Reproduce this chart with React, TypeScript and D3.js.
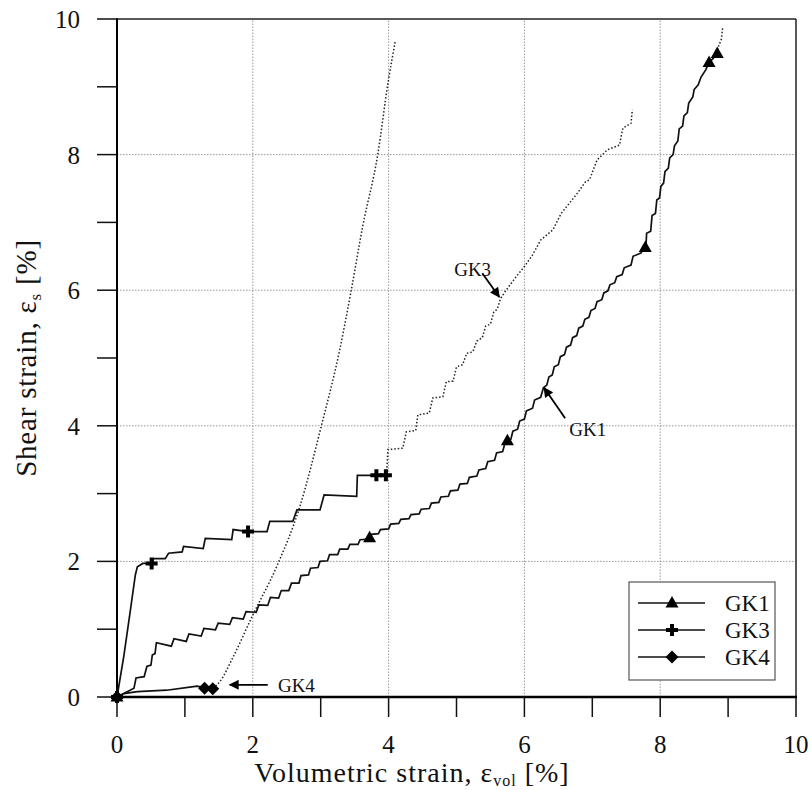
import React from "react";
import * as d3 from "d3";

// measured part of each test (solid, with markers) and its extrapolation (dotted)
const gk1Solid = [
  [0, 0], [0.1, 0.05], [0.25, 0.13], [0.28, 0.28], [0.4, 0.3], [0.44, 0.45], [0.5, 0.47], [0.52, 0.62],
  [0.56, 0.64], [0.58, 0.8], [0.8, 0.75], [0.84, 0.86], [1.02, 0.82], [1.06, 0.93], [1.24, 0.9], [1.28, 1.01],
  [1.45, 0.99], [1.49, 1.09], [1.66, 1.07], [1.7, 1.17], [1.86, 1.15], [1.9, 1.26], [2.05, 1.25], [2.09, 1.36],
  [2.22, 1.35], [2.26, 1.47], [2.38, 1.46], [2.42, 1.57], [2.53, 1.57], [2.57, 1.68], [2.68, 1.68], [2.71, 1.79],
  [2.82, 1.8], [2.85, 1.9], [2.96, 1.91], [2.99, 2.0], [3.1, 2.01], [3.13, 2.1], [3.25, 2.1], [3.28, 2.18],
  [3.4, 2.18], [3.43, 2.25], [3.55, 2.25], [3.58, 2.32], [3.72, 2.33], [3.75, 2.4], [3.85, 2.41], [3.88, 2.47],
  [4.0, 2.48], [4.03, 2.55], [4.15, 2.56], [4.18, 2.62], [4.3, 2.63], [4.33, 2.69], [4.45, 2.7], [4.48, 2.77],
  [4.6, 2.78], [4.63, 2.86], [4.74, 2.87], [4.77, 2.95], [4.88, 2.96], [4.91, 3.04], [5.02, 3.05], [5.05, 3.14],
  [5.16, 3.15], [5.19, 3.24], [5.3, 3.26], [5.33, 3.35], [5.43, 3.37], [5.46, 3.47], [5.56, 3.49], [5.59, 3.6],
  [5.68, 3.62], [5.71, 3.73], [5.75, 3.76], [5.8, 3.8], [5.83, 3.92], [5.9, 3.95], [5.93, 4.07], [6.0, 4.1],
  [6.03, 4.22], [6.12, 4.26], [6.15, 4.38], [6.24, 4.42], [6.28, 4.56], [6.33, 4.6], [6.36, 4.72], [6.41, 4.75],
  [6.44, 4.87], [6.5, 4.9], [6.53, 5.02], [6.59, 5.05], [6.62, 5.16], [6.68, 5.19], [6.71, 5.3], [6.77, 5.33],
  [6.8, 5.44], [6.86, 5.47], [6.89, 5.57], [6.95, 5.6], [6.98, 5.7], [7.04, 5.73], [7.07, 5.83], [7.14, 5.86],
  [7.17, 5.96], [7.23, 5.99], [7.26, 6.08], [7.33, 6.11], [7.36, 6.2], [7.44, 6.23], [7.47, 6.33], [7.57, 6.37],
  [7.6, 6.5], [7.72, 6.55], [7.75, 6.63], [7.79, 6.65], [7.8, 6.84], [7.86, 6.87], [7.88, 7.1], [7.93, 7.13],
  [7.95, 7.33], [7.99, 7.36], [8.01, 7.53], [8.05, 7.58], [8.07, 7.75], [8.12, 7.8], [8.14, 7.95], [8.19, 8.0],
  [8.21, 8.13], [8.26, 8.2], [8.28, 8.38], [8.33, 8.42], [8.35, 8.57], [8.4, 8.62], [8.42, 8.76], [8.48, 8.85],
  [8.5, 8.96], [8.56, 9.03], [8.6, 9.14], [8.67, 9.25], [8.72, 9.36], [8.78, 9.42], [8.84, 9.49],
];
const gk1Dotted = [[8.84, 9.49], [8.86, 9.6], [8.9, 9.7], [8.92, 9.87]];
const gk1Markers = [[0, 0], [3.72, 2.35], [5.75, 3.78], [7.78, 6.63], [8.72, 9.36], [8.84, 9.49]];

const gk3Solid = [
  [0, 0], [0.1, 0.6], [0.2, 1.3], [0.27, 1.8], [0.3, 1.92], [0.38, 1.97], [0.51, 1.97], [0.54, 2.04],
  [0.71, 2.04], [0.76, 2.12], [0.96, 2.14], [0.98, 2.22], [1.27, 2.19], [1.3, 2.34], [1.69, 2.32], [1.71, 2.47],
  [1.93, 2.44], [2.21, 2.44], [2.25, 2.59], [2.59, 2.59], [2.65, 2.76], [2.99, 2.76], [3.05, 2.98], [3.53, 2.96],
  [3.54, 3.27], [3.82, 3.27], [3.97, 3.28],
];
const gk3Dotted = [
  [3.97, 3.28], [3.99, 3.65], [4.21, 3.67], [4.26, 3.91], [4.4, 3.93], [4.43, 4.16], [4.6, 4.19], [4.65, 4.41],
  [4.8, 4.43], [4.85, 4.65], [4.95, 4.66], [5.0, 4.87], [5.09, 4.9], [5.15, 5.07], [5.24, 5.09], [5.3, 5.25],
  [5.38, 5.3], [5.43, 5.47], [5.5, 5.5], [5.55, 5.68], [5.6, 5.72], [5.65, 5.88], [5.73, 6.0], [5.88, 6.2],
  [6.0, 6.35], [6.12, 6.52], [6.24, 6.74], [6.42, 6.89], [6.54, 7.13], [6.66, 7.28], [6.78, 7.43], [6.9, 7.6],
  [6.96, 7.63], [7.07, 7.92], [7.22, 8.07], [7.4, 8.14], [7.45, 8.39], [7.57, 8.46], [7.59, 8.66],
];
const gk3Markers = [[0, 0], [0.51, 1.97], [1.93, 2.44], [3.82, 3.27], [3.96, 3.27]];

const gk4Solid = [[0, 0], [0.1, 0.05], [0.3, 0.08], [0.73, 0.1], [1.1, 0.15], [1.18, 0.16], [1.29, 0.14], [1.41, 0.13]];
const gk4Dotted = [
  [1.41, 0.13], [1.51, 0.22], [1.71, 0.59], [2.0, 1.21], [2.35, 1.92], [2.69, 2.8], [3.01, 4.0], [3.28, 5.12],
  [3.45, 6.0], [3.62, 6.95], [3.84, 8.0], [3.99, 9.05], [4.1, 9.68],
];
const gk4Markers = [[0, 0], [1.29, 0.13], [1.41, 0.12]];

const xTicks = d3.range(0, 11, 1);
const yTicks = d3.range(0, 11, 1);
const xLabels = [0, 2, 4, 6, 8, 10];
const yLabels = [0, 2, 4, 6, 8, 10];
const legendNames = ["GK1", "GK3", "GK4"];

// annotation arrows: tail/tip and label anchor, in data units
const annotations = [
  { name: "GK3", tail: [5.38, 6.25], tip: [5.63, 5.9], text: [5.51, 6.21], anchor: "end" },
  { name: "GK1", tail: [6.6, 4.11], tip: [6.29, 4.56], text: [6.66, 3.85], anchor: "start" },
  { name: "GK4", tail: [2.22, 0.18], tip: [1.66, 0.18], text: [2.37, 0.08], anchor: "start" },
];

const FONT = "'Liberation Serif', 'DejaVu Serif', serif";

const x = d3.scaleLinear().domain([0, 10]).range([117, 796]);
const y = d3.scaleLinear().domain([0, 10]).range([697, 19]);

const line = d3.line<number[]>().x(d => x(d[0])).y(d => y(d[1]));
const smooth = d3.line<number[]>().x(d => x(d[0])).y(d => y(d[1])).curve(d3.curveMonotoneX);

const triangle = "M0,-7L6.5,4.5L-6.5,4.5Z";
const plus = d3.symbol(d3.symbolCross, 80)();
const diamond = "M0,-6.5L6.5,0L0,6.5L-6.5,0Z";

function Marker({ kind, cx, cy }) {
  const d = kind === "GK1" ? triangle : kind === "GK3" ? plus : diamond;
  return <path d={d} transform={`translate(${cx},${cy})`} fill="#000" />;
}

export default function App() {
  const solidStyle = { fill: "none", stroke: "#111", strokeWidth: 1.7 };
  const dotStyle = { fill: "none", stroke: "#222", strokeWidth: 1.5, strokeDasharray: "1.5,2" };

  return (
    <svg width={811} height={790} style={{ position: "absolute", left: 0, top: 0, background: "#fff" }} fontFamily={FONT}>
      <defs>
        <marker id="arrow" viewBox="0 0 10 10" refX="9" refY="5" markerWidth="12" markerHeight="10" markerUnits="userSpaceOnUse" orient="auto">
          <path d="M0,0L10,5L0,10Z" fill="#000" />
        </marker>
      </defs>
      <rect x={0} y={0} width={811} height={790} fill="#fff" />

      {/* grid */}
      {[2, 4, 6, 8].map(v => (
        <g key={"g" + v}>
          <line x1={x(v)} x2={x(v)} y1={y(0)} y2={y(10)} stroke="#999" strokeWidth={1} strokeDasharray="1.5,1.5" />
          <line x1={x(0)} x2={x(10)} y1={y(v)} y2={y(v)} stroke="#999" strokeWidth={1} strokeDasharray="1.5,1.5" />
        </g>
      ))}

      {/* frame */}
      <line x1={x(0)} x2={x(10)} y1={y(10)} y2={y(10)} stroke="#222" strokeWidth={1.5} />
      <line x1={x(10)} x2={x(10)} y1={y(0)} y2={y(10)} stroke="#222" strokeWidth={1.5} />
      <line x1={x(0)} x2={x(0)} y1={y(0)} y2={y(10) - 0.75} stroke="#000" strokeWidth={2} />
      <line x1={x(0) - 1} x2={x(10) + 1} y1={y(0)} y2={y(0)} stroke="#000" strokeWidth={2.5} />

      {/* ticks */}
      {xTicks.map(v => (
        <line key={"xt" + v} x1={x(v)} x2={x(v)} y1={y(0)} y2={y(0) + 20} stroke="#111" strokeWidth={1.5} />
      ))}
      {yTicks.map(v => (
        <line key={"yt" + v} x1={x(0) - 20} x2={x(0)} y1={y(v)} y2={y(v)} stroke="#111" strokeWidth={1.5} />
      ))}
      {xLabels.map(v => (
        <text key={"xl" + v} x={x(v)} y={753} textAnchor="middle" fontSize={25} fill="#111">{v}</text>
      ))}
      {yLabels.map(v => (
        <text key={"yl" + v} x={80} y={y(v) + 9} textAnchor="end" fontSize={25} fill="#111">{v}</text>
      ))}

      {/* axis titles */}
      <text x={412} y={782} textAnchor="middle" fontSize={28} letterSpacing={1} fill="#111">
        Volumetric strain, ε<tspan fontSize={16} dy={4}>vol</tspan><tspan dy={-4}> [%]</tspan>
      </text>
      <text transform="translate(36,358) rotate(-90)" textAnchor="middle" fontSize={29} letterSpacing={0.8} fill="#111">
        Shear strain, ε<tspan fontSize={17} dy={5}>s</tspan><tspan dy={-5}> [%]</tspan>
      </text>

      {/* series */}
      <path d={smooth(gk4Dotted)} style={dotStyle} />
      <path d={line(gk3Dotted)} style={dotStyle} />
      <path d={line(gk1Dotted)} style={dotStyle} />
      <path d={line(gk4Solid)} style={solidStyle} />
      <path d={line(gk3Solid)} style={solidStyle} />
      <path d={line(gk1Solid)} style={solidStyle} />

      {gk4Markers.map((p, i) => <Marker key={"m4" + i} kind="GK4" cx={x(p[0])} cy={y(p[1])} />)}
      {gk3Markers.map((p, i) => <Marker key={"m3" + i} kind="GK3" cx={x(p[0])} cy={y(p[1])} />)}
      {gk1Markers.map((p, i) => <Marker key={"m1" + i} kind="GK1" cx={x(p[0])} cy={y(p[1])} />)}

      {/* annotations */}
      {annotations.map(a => (
        <g key={"a" + a.name}>
          <line x1={x(a.tail[0])} y1={y(a.tail[1])} x2={x(a.tip[0])} y2={y(a.tip[1])} stroke="#000" strokeWidth={1.8} markerEnd="url(#arrow)" />
          <text x={x(a.text[0])} y={y(a.text[1])} textAnchor={a.anchor} fontSize={19} fill="#111">{a.name}</text>
        </g>
      ))}

      {/* legend */}
      <rect x={629} y={582} width={146} height={98} fill="#fff" stroke="#555" strokeWidth={1.2} />
      {legendNames.map((n, i) => {
        const ly = 603 + i * 27;
        return (
          <g key={"lg" + n}>
            <line x1={638} x2={705} y1={ly} y2={ly} stroke="#111" strokeWidth={1.6} />
            <Marker kind={n} cx={672} cy={ly} />
            <text x={725} y={ly + 8} fontSize={23} fill="#111">{n}</text>
          </g>
        );
      })}
    </svg>
  );
}
